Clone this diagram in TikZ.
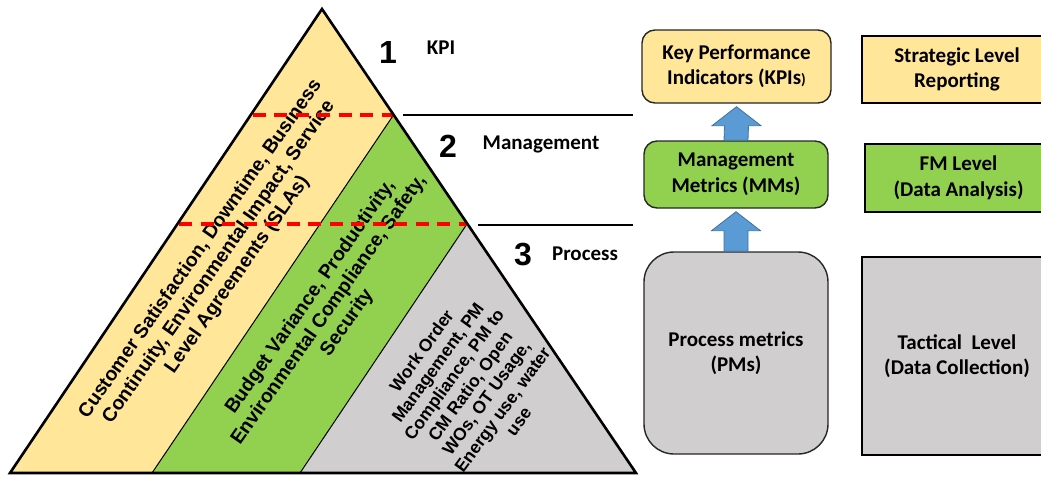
\documentclass[tikz,border=0pt]{standalone}
\usepackage{fontspec}
\setmainfont{Carlito}
\newfontfamily\arialfont{Liberation Sans}
\usetikzlibrary{calc}

\definecolor{kpiyellow}{HTML}{FFE699}
\definecolor{mmgreen}{HTML}{92D050}
\definecolor{pmgray}{HTML}{D0CECE}
\definecolor{arrowblue}{HTML}{5B9BD5}
\definecolor{arrowedge}{HTML}{41719C}
\definecolor{dashred}{HTML}{FF0000}

\tikzset{
  tritext/.style={align=center, inner sep=0pt, text=black},
  bigtri/.style={tritext, font=\arialfont\bfseries\fontsize{19.5}{22.5}\selectfont},
  smalltri/.style={tritext, font=\arialfont\bfseries\fontsize{17.5}{20}\selectfont},
  lvlnum/.style={inner sep=0pt, font=\arialfont\bfseries\fontsize{32}{32}\selectfont},
  lvlname/.style={inner sep=0pt, font=\bfseries\fontsize{21}{25}\selectfont},
  metricbox/.style={draw=black!85, line width=1.4pt, rounded corners=13pt, align=center,
    inner sep=0pt, font=\bfseries\fontsize{21}{25.5}\selectfont},
  levelbox/.style={draw=black, line width=2.4pt, align=center,
    inner sep=0pt, font=\bfseries\fontsize{21}{25.5}\selectfont},
  separator/.style={line width=1.3pt, black},
  bandedge/.style={line width=1pt, black},
  leveldash/.style={dashred, line width=3.6pt, dash pattern=on 13pt off 8.5pt},
  blockarrow/.style={fill=arrowblue, draw=arrowedge, line width=0.8pt, line join=miter}
}

% upward block arrow from the top of one node to just below another
\newcommand\upblockarrow[2]{%
  \path[blockarrow]
    ($(#1.north)+(-12,0)$) -- ($(#2.south)+(-12,22)$) -- ($(#2.south)+(-24.5,22)$)
    -- ($(#2.south)+(0,3)$)
    -- ($(#2.south)+(24.5,22)$) -- ($(#2.south)+(12,22)$) -- ($(#1.north)+(12,0)$) -- cycle;}

\begin{document}
\begin{tikzpicture}[x=1pt,y=-1pt]
\useasboundingbox (0,0) rectangle (1041,477);
\clip (0,0) rectangle (1041,477);

% pyramid corners and band boundaries
\coordinate (apex) at (322,9);
\coordinate (bl) at (10,473);
\coordinate (br) at (636,473);
\coordinate (p1) at (393.5,115);
\coordinate (q1) at (152,473);
\coordinate (p2) at (467,224);
\coordinate (q2) at (300,473);
\coordinate (l1) at (252.5,115);
\coordinate (l2) at (179,224);

% coloured bands
\fill[kpiyellow] (apex) -- (bl) -- (q1) -- (p1) -- cycle;
\fill[mmgreen] (p1) -- (q1) -- (q2) -- (p2) -- cycle;
\fill[pmgray] (p2) -- (q2) -- (br) -- cycle;
\draw[bandedge] (p1) -- (q1);
\draw[bandedge] (p2) -- (q2);

% band texts
\node[bigtri, rotate=55] (ytext) at (219,262)
  {Customer Satisfaction, Downtime, Business\\Continuity, Environmental Impact, Service\\Level Agreements (SLAs)};
\node[bigtri, rotate=55] (gtext) at (329,310)
  {Budget Variance, Productivity,\\Environmental Compliance, Safety,\\Security};
\node[smalltri, rotate=54] (ptext) at (470,386)
  {Work Order\\Management, PM\\Compliance, PM to\\CM Ratio, Open\\WOs, OT Usage,\\Energy use, water\\use};

% level limits inside the pyramid
\draw[leveldash] (l1) -- (p1);
\draw[leveldash] (l2) -- (p2);

% pyramid outline
\draw[line width=2.6pt, line join=miter] (apex) -- (bl) -- (br) -- cycle;

% separators between the levels
\coordinate (s1a) at (403,115);
\coordinate (s1b) at (633,115);
\coordinate (s2a) at (478,225);
\coordinate (s2b) at (633,225);
\draw[separator] (s1a) -- (s1b);
\draw[separator] (s2a) -- (s2b);

% level numbers and names
\node[lvlnum] (n1) at (388,52) {1};
\node[lvlname] (t1) at (441,48) {KPI};
\node[lvlnum] (n2) at (448,146) {2};
\node[lvlname] (t2) at (541,144) {Management};
\node[lvlnum] (n3) at (523,255) {3};
\node[lvlname] (t3) at (585,254) {Process};

% metric boxes
\node[metricbox, fill=kpiyellow, minimum width=189pt, minimum height=73pt] (kpi) at (736.5,66.5)
  {Key Performance\\Indicators (KPIs{\fontsize{15}{15}\selectfont)}};
\node[metricbox, fill=mmgreen, minimum width=184pt, minimum height=67pt] (mm) at (736,174.5)
  {Management\\Metrics (MMs)};
\node[metricbox, fill=pmgray, rounded corners=30pt, minimum width=184pt, minimum height=202pt] (pm) at (736,353)
  {Process metrics\\(PMs)};

% arrows between metric boxes
\upblockarrow{mm}{kpi}
\upblockarrow{pm}{mm}

% reporting level boxes
\node[levelbox, fill=kpiyellow, minimum width=190pt, minimum height=67pt] (strat) at (957,69.5)
  {Strategic Level\\Reporting};
\node[levelbox, fill=mmgreen, minimum width=187pt, minimum height=68pt] (fm) at (958.5,178)
  {FM Level\\(Data Analysis)};
\node[levelbox, fill=pmgray, minimum width=190pt, minimum height=198pt] (tact) at (957,356)
  {Tactical\ \ Level\\(Data Collection)};
\end{tikzpicture}
\end{document}
